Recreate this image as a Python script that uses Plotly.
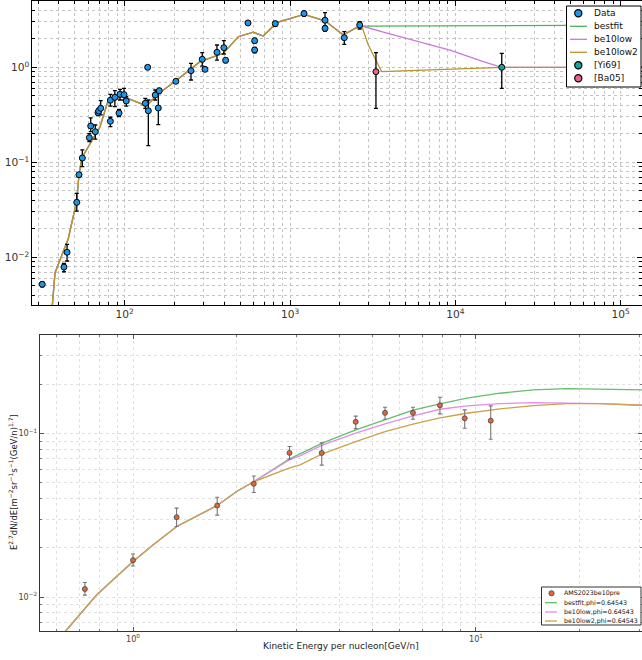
import plotly.graph_objects as go

# ---------------- top panel data ----------------
data_E = [31.7, 42.9, 44.8, 51.3, 52.9, 55.4, 61.1, 62.3, 66.4, 68.9, 69.6, 71.6, 81.9, 81.9,
          87.2, 92.4, 93.7, 99.1, 102.2, 137.7, 133.2, 139, 153, 159.7, 161.8, 204, 251.8,
          294.5, 306, 361.6, 398, 408, 557, 611, 611, 815, 1216, 1629, 1629, 2131, 2640]
data_F = [0.0052, 0.0079, 0.0113, 0.0379, 0.074, 0.111, 0.1815, 0.241, 0.21, 0.333, 0.347, 0.37,
          0.45, 0.27, 0.483, 0.33, 0.52, 0.515, 0.442, 1.0, 0.418, 0.349, 0.511, 0.373, 0.567,
          0.712, 0.92, 1.214, 0.953, 1.439, 1.608, 1.185, 2.93, 1.906, 1.52, 2.88, 3.68, 3.13,
          2.57, 2.05, 2.79]
data_lo = [0.0049, 0.00705, 0.00914, 0.0307, 0.070, 0.0899, 0.165, 0.21, 0.175, 0.31, 0.325, 0.315,
           0.39, 0.237, 0.385, 0.302, 0.453, 0.453, 0.39, 0.96, 0.37, 0.15, 0.453, 0.249, 0.53,
           0.68, 0.735, 1.03, 0.91, 1.19, 1.38, 1.12, 2.8, 1.8, 1.42, 2.7, 3.45, 2.75, 2.4, 1.746, 2.53]
data_hi = [0.0055, 0.00865, 0.0137, 0.0472, 0.078, 0.135, 0.20, 0.293, 0.247, 0.355, 0.37, 0.445,
           0.52, 0.298, 0.567, 0.361, 0.587, 0.601, 0.49, 1.04, 0.472, 0.453, 0.577, 0.577, 0.60,
           0.745, 1.10, 1.425, 1.0, 1.717, 1.905, 1.25, 3.07, 2.02, 1.62, 3.05, 3.9, 3.76, 2.75,
           2.37, 3.02]

yi69_E, yi69_F, yi69_lo, yi69_hi = [19100], [1.0], [0.601], [1.404]
ba05_E, ba05_F, ba05_lo, ba05_hi = [3311], [0.899], [0.37], [1.425]

top_low_E = [36.3, 36.5, 37.9, 45.6, 51.2, 52.9, 55.0, 70.9, 79.6, 98.1, 135.8, 156.2, 204,
             285.4, 395, 486.5, 599.5, 689.4, 830.8, 1215, 1628, 2101, 2474, 2715]
top_low_F = [0.0022, 0.00314, 0.00689, 0.0158, 0.0391, 0.074, 0.111, 0.237, 0.453, 0.49, 0.392,
             0.511, 0.723, 1.146, 1.404, 2.10, 2.34, 2.135, 2.95, 3.61, 3.09, 2.19, 2.57, 2.72]
bestfit_E = top_low_E + [200000]
bestfit_F = top_low_F + [2.78]
be10low_E = top_low_E + [3668, 4630, 9290, 14770, 19100, 200000]
be10low_F = top_low_F + [2.34, 2.10, 1.52, 1.146, 1.0, 1.0]
be10low2_E = top_low_E + [2977, 3588, 19100, 200000]
be10low2_F = top_low_F + [1.717, 0.899, 1.0, 1.0]

# ---------------- bottom panel data ----------------
ams_E = [0.724, 1.0, 1.34, 1.76, 2.25, 2.86, 3.55, 4.46, 5.43, 6.55, 7.85, 9.27, 11.04]
ams_F = [0.0112, 0.0168, 0.0308, 0.0363, 0.0493, 0.0762, 0.0762, 0.118, 0.134, 0.134, 0.149, 0.124, 0.120]
ams_lo = [0.01028, 0.01547, 0.027, 0.0317, 0.0436, 0.0698, 0.0641, 0.1073, 0.1224, 0.1224, 0.132, 0.1079, 0.0924]
ams_hi = [0.01227, 0.01833, 0.035, 0.0408, 0.055, 0.0833, 0.0877, 0.128, 0.145, 0.145, 0.167, 0.1396, 0.1477]

mod_E = [0.60, 0.641, 0.784, 1.0, 1.146, 1.341, 1.758, 2.006, 2.254, 2.863, 3.068, 3.564, 4.459,
         5.429, 6.553, 7.852, 9.396, 11.75, 14.69, 18.38, 22.99, 30.48]
bf_phi_F = [0.0054, 0.00631, 0.01033, 0.01652, 0.0209, 0.0270, 0.0363, 0.0442, 0.0509, 0.0700,
            0.0752, 0.0874, 0.1053, 0.1213, 0.139, 0.1518, 0.1646, 0.1766, 0.185, 0.1884, 0.1876, 0.185]
low_phi_F = [0.0054, 0.00631, 0.01033, 0.01652, 0.0209, 0.0270, 0.0363, 0.0442, 0.0509, 0.0692,
             0.0731, 0.0849, 0.1006, 0.1146, 0.1283, 0.1409, 0.1477, 0.1526, 0.1547, 0.1540, 0.1526, 0.1491]
low2_phi_F = [0.0054, 0.00631, 0.01033, 0.01652, 0.0209, 0.0270, 0.0363, 0.0442, 0.0509, 0.0617,
              0.0644, 0.0752, 0.0894, 0.1028, 0.1142, 0.1247, 0.1332, 0.1416, 0.1483, 0.1526, 0.1526, 0.1491]

top_legend_names = ["Data", "bestfit", "be10low", "be10low2", "[Yi69]", "[Ba05]"]
bot_legend_names = ["AMS2023be10pre", "bestfit,phi=0.64543", "be10low,phi=0.64543", "be10low2,phi=0.64543"]

W, H = 642, 660
FONT = "DejaVu Sans"

C_DATA, C_YI, C_BA = "#1e96e6", "#17a2a0", "#e8608c"
C_G, C_V, C_Y = "#4fb35a", "#cc77dd", "#b8942a"
C_AMS, C_G2, C_V2, C_Y2 = "#e0673a", "#66bd6a", "#df90ea", "#c9a24a"


def X(px):
    return px / W


def Y(py):
    return 1 - py / H


def errs(v, lo, hi):
    return [h - a for a, h in zip(v, hi)], [a - l for a, l in zip(v, lo)]


fig = go.Figure()

# top panel lines
for name, xs, ys, col in [("bestfit", bestfit_E, bestfit_F, C_G),
                          ("be10low", be10low_E, be10low_F, C_V),
                          ("be10low2", be10low2_E, be10low2_F, C_Y)]:
    fig.add_trace(go.Scatter(x=xs, y=ys, mode="lines", name=name, line=dict(color=col, width=1.3),
                             xaxis="x", yaxis="y", showlegend=False))

for name, xs, ys, lo, hi, col in [("Data", data_E, data_F, data_lo, data_hi, C_DATA),
                                  ("[Yi69]", yi69_E, yi69_F, yi69_lo, yi69_hi, C_YI),
                                  ("[Ba05]", ba05_E, ba05_F, ba05_lo, ba05_hi, C_BA)]:
    up, dn = errs(ys, lo, hi)
    fig.add_trace(go.Scatter(x=xs, y=ys, mode="markers", name=name,
                             marker=dict(color=col, size=6, line=dict(color="black", width=1)),
                             error_y=dict(type="data", array=up, arrayminus=dn, color="black",
                                          thickness=1.3, width=2),
                             xaxis="x", yaxis="y", showlegend=False))

# bottom panel lines
for name, ys, col in [("bestfit,phi=0.64543", bf_phi_F, C_G2),
                      ("be10low,phi=0.64543", low_phi_F, C_V2),
                      ("be10low2,phi=0.64543", low2_phi_F, C_Y2)]:
    fig.add_trace(go.Scatter(x=mod_E, y=ys, mode="lines", name=name, line=dict(color=col, width=1.3),
                             xaxis="x2", yaxis="y2", showlegend=False))

up, dn = errs(ams_F, ams_lo, ams_hi)
fig.add_trace(go.Scatter(x=ams_E, y=ams_F, mode="markers", name="AMS2023be10pre",
                         marker=dict(color=C_AMS, size=5, line=dict(color="#444", width=0.8)),
                         error_y=dict(type="data", array=up, arrayminus=dn, color="#777",
                                      thickness=1.1, width=2),
                         xaxis="x2", yaxis="y2", showlegend=False))

top_grid = dict(showgrid=True, gridcolor="#c4c4c4", griddash="dot", gridwidth=1)
top_axis = dict(type="log", dtick=1, exponentformat="power", showline=True, linecolor="black",
                linewidth=1.2, mirror="ticks", ticks="inside", ticklen=5, tickcolor="black",
                tickfont=dict(size=8.5, color="#333", family=FONT), zeroline=False,
                automargin=False, labelalias={"1": "10<sup>0</sup>", "10": "10<sup>1</sup>"},
                **top_grid,
                minor=dict(ticks="inside", ticklen=3, tickcolor="black", dtick="D1", **top_grid))

bot_grid = dict(showgrid=True, gridcolor="#e0e0e0", griddash="dot", gridwidth=1)
bot_axis = dict(type="log", dtick=1, exponentformat="power", showline=True, linecolor="#333",
                linewidth=1.2, mirror="ticks", ticks="inside", ticklen=4, tickcolor="#555",
                tickfont=dict(size=6.5, color="#444", family=FONT), zeroline=False,
                automargin=False, labelalias={"1": "10<sup>0</sup>", "10": "10<sup>1</sup>"},
                **bot_grid,
                minor=dict(ticks="inside", ticklen=2, tickcolor="#777", dtick="D1", **bot_grid))

shapes = []
annotations = [
    dict(text="Kinetic Energy per nucleon[GeV/n]", xref="paper", yref="paper",
         x=X(341), y=Y(646), showarrow=False, font=dict(size=9, color="#222"),
         xanchor="center", yanchor="middle"),
    dict(text="E<sup>2.7</sup>dN/dE[m<sup>−2</sup>sr<sup>−1</sup>s<sup>−1</sup>(GeV/n)<sup>1.7</sup>]",
         xref="paper", yref="paper", x=X(13), y=Y(482), showarrow=False, textangle=-90,
         font=dict(size=8.5, color="#222"), xanchor="center", yanchor="middle"),
]


def legend_box(x0, y0, x1, y1, color):
    shapes.append(dict(type="rect", xref="paper", yref="paper", x0=X(x0), x1=X(x1), y0=Y(y1), y1=Y(y0),
                       fillcolor="white", line=dict(color=color, width=1), layer="above"))


def legend_marker(cx, cy, r, fill, edge, ew):
    shapes.append(dict(type="circle", xref="paper", yref="paper", x0=X(cx - r), x1=X(cx + r),
                       y0=Y(cy + r), y1=Y(cy - r), fillcolor=fill, line=dict(color=edge, width=ew),
                       layer="above"))


def legend_line(x0, x1, cy, color):
    shapes.append(dict(type="line", xref="paper", yref="paper", x0=X(x0), x1=X(x1), y0=Y(cy), y1=Y(cy),
                       line=dict(color=color, width=1.3), layer="above"))


def legend_text(x, cy, text, size):
    annotations.append(dict(text=text, xref="paper", yref="paper", x=X(x), y=Y(cy), showarrow=False,
                            xanchor="left", yanchor="middle", font=dict(size=size, color="#111"),
                            borderpad=0))


# top legend
legend_box(566.5, 6, 641, 87, "black")
top_rows = [13.3, 26.3, 39.3, 52.3, 65.3, 78.3]
top_styles = [("m", C_DATA), ("l", C_G), ("l", C_V), ("l", C_Y), ("m", C_YI), ("m", C_BA)]
for name, cy, (kind, col) in zip(top_legend_names, top_rows, top_styles):
    if kind == "m":
        legend_marker(578.3, cy, 3.6, col, "black", 1.2)
    else:
        legend_line(570, 587, cy, col)
    legend_text(593, cy, name, 9)

# bottom legend
legend_box(541.5, 587, 641, 625, "#333")
bot_rows = [593.3, 602.7, 612, 621]
bot_styles = [("m", C_AMS), ("l", C_G2), ("l", C_V2), ("l", C_Y2)]
for name, cy, (kind, col) in zip(bot_legend_names, bot_rows, bot_styles):
    if kind == "m":
        legend_marker(551.5, cy, 2.6, col, "#444", 0.8)
    else:
        legend_line(545, 557, cy, col)
    legend_text(562.5, cy, name, 6.3)

fig.update_layout(
    width=W, height=H, margin=dict(l=0, r=0, t=0, b=0),
    paper_bgcolor="white", plot_bgcolor="white", showlegend=False,
    font=dict(family=FONT, color="#222"),
    xaxis=dict(domain=[X(32), 1], range=[1.4392, 5.1295], anchor="y", **top_axis),
    yaxis=dict(domain=[Y(305), Y(1)], range=[-2.502, 0.698], anchor="x", **top_axis),
    xaxis2=dict(domain=[X(39.5), 1], range=[-0.2726, 1.484], anchor="y2", **bot_axis),
    yaxis2=dict(domain=[Y(631), Y(335)], range=[-2.2078, -0.3967], anchor="x2", **bot_axis),
    shapes=shapes,
    annotations=annotations,
)

fig.write_html("out.html", config={"displayModeBar": False},
               post_script="document.body.style.margin='0px';document.body.style.overflow='hidden';")
